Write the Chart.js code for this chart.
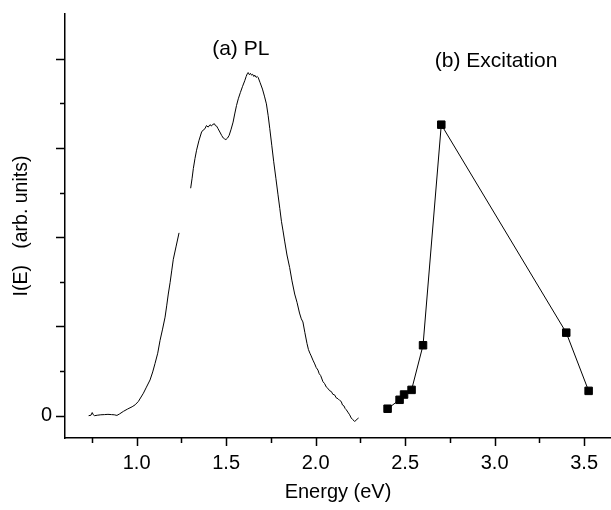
<!DOCTYPE html>
<html>
<head>
<meta charset="utf-8">
<script src="https://cdn.jsdelivr.net/npm/chart.js@4.4.1/dist/chart.umd.min.js"></script>
<style>
  html, body { margin: 0; padding: 0; background: #fff; }
  #wrap { width: 611px; height: 510px; }
</style>
</head>
<body>
<div id="wrap"><canvas id="chart" width="611" height="510"></canvas></div>
<script>
// PL spectrum (null = gap in the trace)
const plEnergy = [0.732, 0.745, 0.752, 0.758, 0.765, 0.78, 0.80, 0.82, 0.84, 0.86, 0.875, 0.89, 0.905, 0.926, 0.95, 0.975, 0.992, 1.01, 1.038, 1.055, 1.075, 1.09, 1.103, 1.118, 1.131, 1.145, 1.159, 1.168, 1.177, 1.187, 1.196, 1.205, 1.221, 1.237,
  1.27,
  1.302, 1.31, 1.317, 1.326, 1.335, 1.348, 1.363, 1.372, 1.382, 1.39, 1.40, 1.41, 1.418, 1.425, 1.435, 1.44, 1.447, 1.455, 1.465, 1.475, 1.484, 1.492, 1.499, 1.508, 1.517, 1.528, 1.539, 1.548, 1.558, 1.568, 1.58, 1.592, 1.604, 1.612, 1.618, 1.623, 1.63, 1.636, 1.642, 1.648, 1.655, 1.66, 1.668, 1.674, 1.679, 1.69, 1.703, 1.714, 1.725, 1.735, 1.744, 1.755, 1.766, 1.778, 1.79, 1.80, 1.809, 1.818, 1.827, 1.84, 1.855, 1.868, 1.883, 1.896, 1.91, 1.92, 1.929, 1.94, 1.952, 1.96, 1.968, 1.975, 1.985, 1.995, 2.003, 2.013, 2.02, 2.028, 2.041, 2.05, 2.06, 2.068, 2.078, 2.088, 2.096, 2.106, 2.115, 2.125, 2.135, 2.143, 2.15, 2.158, 2.165, 2.171, 2.18, 2.19, 2.199, 2.208, 2.217, 2.225, 2.233, 2.24];
const plIntensity = [0.00, 0.005, 0.035, 0.01, 0.0, 0.005, 0.01, 0.012, 0.015, 0.012, 0.01, 0.003, 0.02, 0.048, 0.075, 0.10, 0.122, 0.16, 0.252, 0.32, 0.40, 0.49, 0.585, 0.70, 0.844, 0.97, 1.104, 1.23, 1.363, 1.49, 1.622, 1.752, 1.90, 2.048,
  null,
  2.548, 2.66, 2.77, 2.88, 2.974, 3.08, 3.178, 3.20, 3.215, 3.25, 3.233, 3.26, 3.245, 3.263, 3.27, 3.25, 3.244, 3.215, 3.178, 3.14, 3.111, 3.10, 3.093, 3.11, 3.141, 3.21, 3.289, 3.38, 3.474, 3.55, 3.622, 3.69, 3.752, 3.80, 3.83, 3.844, 3.82, 3.835, 3.815, 3.825, 3.80, 3.815, 3.79, 3.80, 3.789, 3.73, 3.659, 3.58, 3.493, 3.36, 3.215, 3.03, 2.844, 2.66, 2.474, 2.32, 2.178, 2.07, 1.956, 1.80, 1.659, 1.51, 1.363, 1.27, 1.15, 1.085, 1.05, 0.93, 0.807, 0.74, 0.70, 0.67, 0.622, 0.58, 0.54, 0.511, 0.47, 0.45, 0.381, 0.36, 0.32, 0.307, 0.28, 0.27, 0.24, 0.233, 0.20, 0.19, 0.17, 0.159, 0.12, 0.11, 0.08, 0.067, 0.04, 0.01, -0.026, -0.045, -0.063, -0.055, -0.035, -0.026];

// excitation points
const exEnergy = [2.402, 2.469, 2.494, 2.536, 2.600, 2.702, 3.40, 3.525];
const exIntensity = [0.078, 0.178, 0.237, 0.289, 0.789, 3.26, 0.93, 0.278];

// axes
const xMajor = [1.0, 1.5, 2.0, 2.5, 3.0, 3.5];
const xMinor = [0.75, 1.25, 1.75, 2.25, 2.75, 3.25];
const yMajor = [0, 1, 2, 3, 4];
const yMinor = [0.5, 1.5, 2.5, 3.5];
const yLabelled = [0];

// in-plot labels
const noteText = ['(a) PL', '(b) Excitation'];
const noteX = [1.582, 3.008];
const noteY = [4.11, 3.97];

const FONT = '"Liberation Sans", Arial, Helvetica, sans-serif';

const axisDecor = {
  id: 'axisDecor',
  afterDraw(chart) {
    const {ctx, chartArea, scales: {x, y}} = chart
    ctx.save()
    ctx.strokeStyle = '#000'
    ctx.lineWidth = 1.5
    ctx.beginPath()
    const xt = (vals, len) => vals.forEach(v => {
      const px = Math.round(x.getPixelForValue(v)) + 0.5
      ctx.moveTo(px, chartArea.bottom)
      ctx.lineTo(px, chartArea.bottom + len)
    })
    const yt = (vals, len) => vals.forEach(v => {
      const py = Math.round(y.getPixelForValue(v)) + 0.5
      ctx.moveTo(chartArea.left, py)
      ctx.lineTo(chartArea.left - len, py)
    })
    xt(xMajor, 8); xt(xMinor, 5)
    yt(yMajor, 9); yt(yMinor, 5)
    ctx.stroke()

    ctx.fillStyle = '#000'
    ctx.font = '21px ' + FONT
    ctx.textAlign = 'center'
    ctx.textBaseline = 'middle'
    noteText.forEach((t, i) => {
      ctx.fillText(t, x.getPixelForValue(noteX[i]), y.getPixelForValue(noteY[i]))
    })
    ctx.restore()
  }
}

Chart.defaults.font.family = FONT
Chart.defaults.font.size = 20
Chart.defaults.color = '#000'

new Chart(document.getElementById('chart'), {
  type: 'line',
  data: {
    datasets: [
      {
        label: 'PL',
        data: plEnergy.map((e, i) => ({x: e, y: plIntensity[i]})),
        borderColor: '#000',
        borderWidth: 1,
        pointRadius: 0,
        tension: 0,
        spanGaps: false,
        fill: false
      },
      {
        label: 'Excitation',
        data: exEnergy.map((e, i) => ({x: e, y: exIntensity[i]})),
        borderColor: '#000',
        borderWidth: 1,
        pointStyle: 'rect',
        pointRadius: 5.3,
        pointBorderWidth: 1,
        pointBackgroundColor: '#000',
        pointBorderColor: '#000',
        tension: 0,
        fill: false
      }
    ]
  },
  options: {
    responsive: false,
    animation: false,
    events: [],
    layout: { autoPadding: false, padding: { top: 14, right: 0, left: 0, bottom: 0 } },
    plugins: { legend: { display: false }, tooltip: { enabled: false } },
    scales: {
      x: {
        type: 'linear',
        min: 0.6,
        max: 3.65,
        border: { color: '#000', width: 1.5 },
        grid: { drawOnChartArea: false, drawTicks: false },
        afterBuildTicks: s => { s.ticks = xMajor.map(v => ({value: v})) },
        afterFit: s => { s.height = 72; s.paddingLeft = 0; s.paddingRight = 0 },
        ticks: { padding: 13, maxRotation: 0, autoSkip: false, callback: v => v.toFixed(1) },
        title: { display: true, text: 'Energy (eV)', padding: { top: 0, bottom: 6 } }
      },
      y: {
        type: 'linear',
        min: -0.25,
        max: 4.5,
        border: { color: '#000', width: 1.5 },
        grid: { drawOnChartArea: false, drawTicks: false },
        afterBuildTicks: s => { s.ticks = yLabelled.map(v => ({value: v})) },
        afterFit: s => { s.width = 65; s.paddingTop = 0; s.paddingBottom = 0 },
        ticks: { padding: 13, callback: v => String(v) },
        title: { display: true, text: 'I(E)   (arb. units)', font: { size: 19.5 }, padding: { top: 10, bottom: 0 } }
      }
    }
  },
  plugins: [axisDecor]
})
</script>
</body>
</html>
